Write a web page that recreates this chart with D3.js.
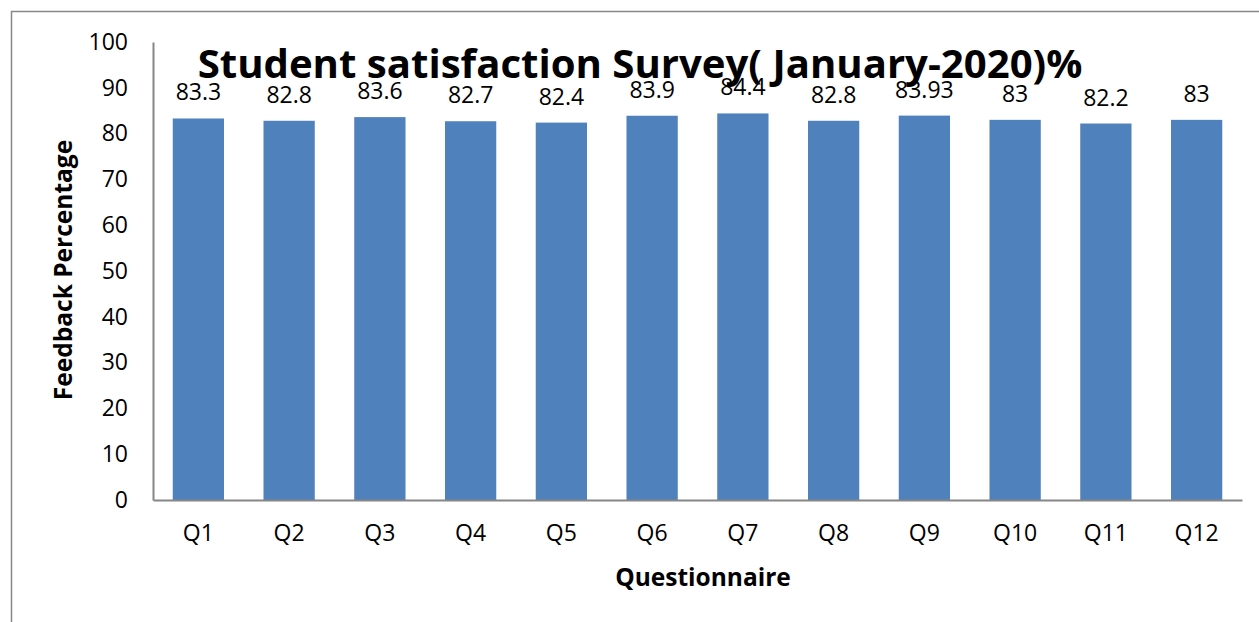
<!DOCTYPE html>
<html>
<head>
<meta charset="utf-8">
<script src="https://cdn.jsdelivr.net/npm/d3@7/dist/d3.min.js"></script>
<style>
  body { margin: 0; background: #fff; }
  svg { display: block; font-family: "Open Sans", sans-serif; }
</style>
</head>
<body>
<script>
// chart data
var questions = ["Q1", "Q2", "Q3", "Q4", "Q5", "Q6", "Q7", "Q8", "Q9", "Q10", "Q11", "Q12"];
var feedback = [83.3, 82.8, 83.6, 82.7, 82.4, 83.9, 84.4, 82.8, 83.93, 83, 82.2, 83];
var yTicks = [0, 10, 20, 30, 40, 50, 60, 70, 80, 90, 100];

var titleText = "Student satisfaction Survey( January-2020)%";

var width = 1259, height = 622;
var margin = {top: 42, right: 17, bottom: 122, left: 153};

var svg = d3.select("body").append("svg")
  .attr("width", width)
  .attr("height", height);

// outer frame (runs off the right and bottom edge)
svg.append("path")
  .attr("d", "M11.5," + height + "V11.5H" + width)
  .attr("fill", "none")
  .attr("stroke", "#878787")
  .attr("stroke-width", 1.5);

var x = d3.scaleBand()
  .domain(questions)
  .range([margin.left, width - margin.right])
  .paddingInner(0.435)
  .paddingOuter(0.2175);

var y = d3.scaleLinear()
  .domain([0, 100])
  .range([height - margin.bottom, margin.top]);

// y axis, no tick marks
var yAxis = svg.append("g")
  .attr("transform", "translate(" + margin.left + ",0)")
  .call(d3.axisLeft(y).tickValues(yTicks).tickSize(0).tickPadding(25));
yAxis.select(".domain").attr("stroke", "#868686").attr("stroke-width", 2);
yAxis.selectAll("text").attr("font-size", 23).attr("font-family", "Open Sans").attr("fill", "#000");

// bars
svg.selectAll(".bar")
  .data(feedback)
  .enter().append("rect")
  .attr("class", "bar")
  .attr("x", function(d, i) { return x(questions[i]); })
  .attr("width", x.bandwidth())
  .attr("y", function(d) { return y(d); })
  .attr("height", function(d) { return y(0) - y(d); })
  .attr("fill", "#4F81BD");

// x axis on top of bars
var xAxis = svg.append("g")
  .attr("transform", "translate(0," + y(0) + ")")
  .call(d3.axisBottom(x).tickSize(0).tickPadding(25));
xAxis.select(".domain").attr("stroke", "#868686").attr("stroke-width", 2);
xAxis.selectAll("text").attr("font-size", 23).attr("font-family", "Open Sans").attr("fill", "#000");

// value labels above bars
svg.selectAll(".val")
  .data(feedback)
  .enter().append("text")
  .attr("class", "val")
  .attr("x", function(d, i) { return x(questions[i]) + x.bandwidth() / 2; })
  .attr("y", function(d) { return y(d) - 18; })
  .attr("text-anchor", "middle")
  .attr("font-size", 23)
  .text(function(d) { return d; });

// axis titles
svg.append("text")
  .attr("x", 703)
  .attr("y", 586)
  .attr("text-anchor", "middle")
  .attr("font-size", 24.5)
  .attr("font-weight", "bold")
  .text("Questionnaire");

svg.append("text")
  .attr("transform", "translate(72,270) rotate(-90)")
  .attr("text-anchor", "middle")
  .attr("font-size", 24.5)
  .attr("font-weight", "bold")
  .text("Feedback Percentage");

// title, sized to span roughly the same width as the picture
var title = svg.append("text")
  .attr("x", 640)
  .attr("y", 78)
  .attr("text-anchor", "middle")
  .attr("font-size", 40)
  .attr("font-weight", "bold")
  .text(titleText);
var tw = title.node().getComputedTextLength();
title.attr("font-size", 40 * 885 / tw);
</script>
</body>
</html>
